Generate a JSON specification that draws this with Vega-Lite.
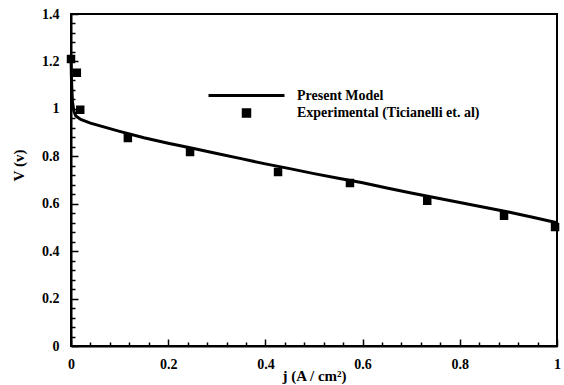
{
  "$schema": "https://vega.github.io/schema/vega-lite/v6.json",
  "width": 486,
  "height": 332,
  "autosize": {"type": "none"},
  "padding": {"left": 71, "top": 14, "right": 7, "bottom": 39},
  "background": "white",
  "config": {
    "view": {"stroke": "black", "strokeWidth": 2},
    "axis": {
      "domainColor": "black", "domainWidth": 2,
      "tickColor": "black", "tickWidth": 1.5,
      "labelFont": "Liberation Serif", "labelFontWeight": "bold", "labelFontSize": 14, "labelColor": "black",
      "titleFont": "Liberation Serif", "titleFontWeight": "bold", "titleFontSize": 15, "titleColor": "black",
      "grid": false
    },
    "legend": {"labelFont": "Liberation Serif", "labelFontSize": 14, "labelFontWeight": "bold", "labelColor": "black", "labelLimit": 0}
  },
  "datasets": {
    "model": [
      {"j": 0, "V": 1.22, "series": "Present Model"},
      {"j": 0.001, "V": 1.12, "series": "Present Model"},
      {"j": 0.003, "V": 1.03, "series": "Present Model"},
      {"j": 0.006, "V": 0.99, "series": "Present Model"},
      {"j": 0.01, "V": 0.97, "series": "Present Model"},
      {"j": 0.02, "V": 0.955, "series": "Present Model"},
      {"j": 0.04, "V": 0.94, "series": "Present Model"},
      {"j": 0.06, "V": 0.928, "series": "Present Model"},
      {"j": 0.1, "V": 0.905, "series": "Present Model"},
      {"j": 0.15, "V": 0.878, "series": "Present Model"},
      {"j": 0.2, "V": 0.855, "series": "Present Model"},
      {"j": 0.25, "V": 0.834, "series": "Present Model"},
      {"j": 0.3, "V": 0.812, "series": "Present Model"},
      {"j": 0.35, "V": 0.79, "series": "Present Model"},
      {"j": 0.4, "V": 0.768, "series": "Present Model"},
      {"j": 0.45, "V": 0.748, "series": "Present Model"},
      {"j": 0.5, "V": 0.727, "series": "Present Model"},
      {"j": 0.55, "V": 0.707, "series": "Present Model"},
      {"j": 0.6, "V": 0.688, "series": "Present Model"},
      {"j": 0.65, "V": 0.666, "series": "Present Model"},
      {"j": 0.7, "V": 0.645, "series": "Present Model"},
      {"j": 0.75, "V": 0.625, "series": "Present Model"},
      {"j": 0.8, "V": 0.605, "series": "Present Model"},
      {"j": 0.85, "V": 0.585, "series": "Present Model"},
      {"j": 0.9, "V": 0.565, "series": "Present Model"},
      {"j": 0.95, "V": 0.543, "series": "Present Model"},
      {"j": 1.0, "V": 0.52, "series": "Present Model"}
    ],
    "exp": [
      {"j": 0.0, "V": 1.21, "series": "Experimental (Ticianelli et. al)"},
      {"j": 0.012, "V": 1.152, "series": "Experimental (Ticianelli et. al)"},
      {"j": 0.019, "V": 0.996, "series": "Experimental (Ticianelli et. al)"},
      {"j": 0.117, "V": 0.877, "series": "Experimental (Ticianelli et. al)"},
      {"j": 0.245, "V": 0.818, "series": "Experimental (Ticianelli et. al)"},
      {"j": 0.426, "V": 0.734, "series": "Experimental (Ticianelli et. al)"},
      {"j": 0.574, "V": 0.687, "series": "Experimental (Ticianelli et. al)"},
      {"j": 0.733, "V": 0.612, "series": "Experimental (Ticianelli et. al)"},
      {"j": 0.891, "V": 0.549, "series": "Experimental (Ticianelli et. al)"},
      {"j": 0.996, "V": 0.502, "series": "Experimental (Ticianelli et. al)"}
    ]
  },
  "encoding": {
    "x": {
      "field": "j", "type": "quantitative",
      "scale": {"domain": [0, 1], "nice": false, "zero": false},
      "axis": {
        "title": "j (A / cm²)",
        "values": [0,0.04,0.08,0.12,0.16,0.2,0.24,0.28,0.32,0.36,0.4,0.44,0.48,0.52,0.56,0.6,0.64,0.68,0.72,0.76,0.8,0.84,0.88,0.92,0.96,1],
        "format": "~g",
        "labelExpr": "abs(datum.value*5 - round(datum.value*5)) < 0.001 ? datum.label : ''",
        "tickSize": {"condition": {"test": "abs(datum.value*5 - round(datum.value*5)) < 0.001", "value": -7}, "value": -4},
        "labelPadding": 18,
        "labelFlush": false,
        "titlePadding": -3
      }
    },
    "y": {
      "field": "V", "type": "quantitative",
      "scale": {"domain": [0, 1.4], "nice": false},
      "axis": {
        "title": "V (v)",
        "values": [0,0.04,0.08,0.12,0.16,0.2,0.24,0.28,0.32,0.36,0.4,0.44,0.48,0.52,0.56,0.6,0.64,0.68,0.72,0.76,0.8,0.84,0.88,0.92,0.96,1,1.04,1.08,1.12,1.16,1.2,1.24,1.28,1.32,1.36,1.4],
        "format": "~g",
        "labelExpr": "abs(datum.value*5 - round(datum.value*5)) < 0.001 ? datum.label : ''",
        "tickSize": {"condition": {"test": "abs(datum.value*5 - round(datum.value*5)) < 0.001", "value": -7}, "value": -4},
        "labelPadding": 19,
        "labelFlush": false,
        "titlePadding": 15,
        "titleY": 151
      }
    }
  },
  "layer": [
    {
      "data": {"name": "model"},
      "mark": {"type": "line", "strokeWidth": 3, "color": "black"},
      "encoding": {
        "color": {
          "field": "series", "type": "nominal",
          "scale": {"domain": ["Present Model", "Experimental (Ticianelli et. al)"], "range": ["black", "black"]},
          "legend": {
            "title": null, "orient": "none", "legendX": 136, "legendY": 42,
            "rowPadding": 0, "labelOffset": 11,
            "symbolStrokeColor": "black", "symbolStrokeWidth": 3, "symbolFillColor": "black"
          }
        }
      }
    },
    {
      "data": {"name": "exp"},
      "mark": {"type": "point", "filled": true, "opacity": 1, "stroke": "black", "strokeWidth": 2},
      "encoding": {
        "color": {
          "field": "series", "type": "nominal",
          "scale": {"domain": ["Present Model", "Experimental (Ticianelli et. al)"], "range": ["black", "black"]}
        },
        "shape": {
          "field": "series", "type": "nominal",
          "scale": {"domain": ["Present Model", "Experimental (Ticianelli et. al)"], "range": ["stroke", "square"]}
        },
        "size": {
          "field": "series", "type": "nominal",
          "scale": {"domain": ["Present Model", "Experimental (Ticianelli et. al)"], "range": [5776, 42]}
        }
      }
    }
  ]
}
